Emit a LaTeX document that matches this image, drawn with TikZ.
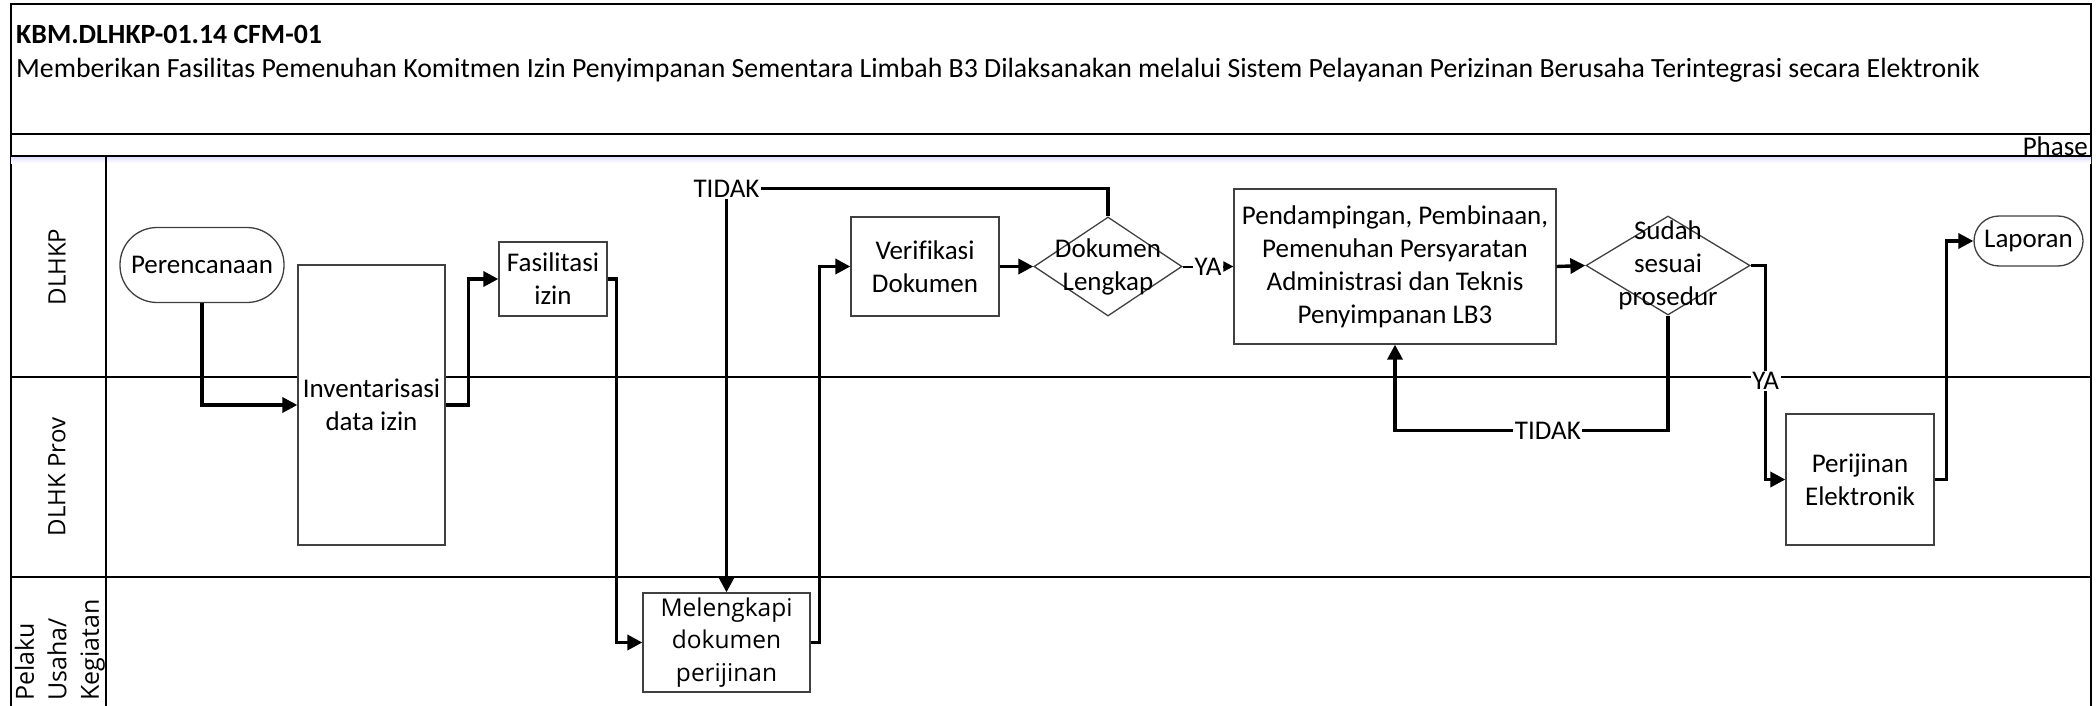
\documentclass[tikz,border=0pt]{standalone}
\usepackage{fontspec}
\setmainfont{Carlito}[Ligatures=NoCommon]
\newfontfamily\lanefont{Open Sans}[Ligatures=NoCommon]
\usetikzlibrary{shapes.geometric,arrows.meta}
\begin{document}
\begin{tikzpicture}[x=1pt,y=-1pt,
  frameline/.style={line width=1.8pt,black},
  laneline/.style={line width=1.6pt,black},
  box/.style={draw=black!75,line width=1.3pt,fill=white,inner sep=0pt,align=center,
    font=\fontsize{27}{33}\selectfont},
  decision/.style={draw=black!75,line width=1.3pt,diamond,inner sep=0pt,fill=white},
  dtext/.style={inner sep=0pt,align=center,font=\fontsize{27}{33}\selectfont},
  lanelabel/.style={rotate=90,inner sep=0pt,font=\lanefont\fontsize{24}{32.5}\selectfont},
  flow/.style={line width=3.4pt,black,-{Triangle[length=15pt,width=15pt]}},
  thinflow/.style={line width=2pt,black,-{Triangle[length=10pt,width=10pt]}},
  lbl/.style={fill=white,inner sep=1.5pt,font=\fontsize{27}{33}\selectfont}]
\useasboundingbox (0,0) rectangle (2096,706);
\clip (0,0) rectangle (2096,706);

% outer frame, header and phase band
\draw[frameline] (11,720) -- (11,4) -- (2091,4) -- (2091,720);
\draw[frameline] (11,134) -- (2091,134);
\shade[top color=blue!12,bottom color=white] (11,157) rectangle (2091,163);
\draw[frameline] (11,156) -- (2091,156);

\node[anchor=base west,inner sep=0pt,font=\bfseries\fontsize{27.8}{33}\selectfont] (code) at (16,44) {KBM.DLHKP-01.14 CFM-01};
\node[anchor=base west,inner sep=0pt,font=\fontsize{27.8}{33}\selectfont] (title) at (16,78) {Memberikan Fasilitas Pemenuhan Komitmen Izin Penyimpanan Sementara Limbah B3 Dilaksanakan melalui Sistem Pelayanan Perizinan Berusaha Terintegrasi secara Elektronik};
\node[anchor=base east,inner sep=0pt,font=\fontsize{27}{33}\selectfont] (phase) at (2088,155) {Phase};

% swimlanes
\draw[laneline] (106,156) -- (106,720);
\draw[laneline] (11,377) -- (2091,377);
\draw[laneline] (11,577) -- (2091,577);
\node[lanelabel] (laneA) at (57,267) {DLHKP};
\node[lanelabel] (laneB) at (57,477) {DLHK Prov};
\node[lanelabel,anchor=west,align=left,font=\lanefont\fontsize{25}{32.5}\selectfont] (laneC) at (60,701) {Pelaku\\Usaha/\\Kegiatan};

% process steps
\node[box,rounded corners=37pt,minimum width=164pt,minimum height=75pt] (plan) at (202,265) {Perencanaan};
\node[box,minimum width=147pt,minimum height=280pt] (inv) at (371.5,405) {Inventarisasi\\data izin};
\node[box,minimum width=108pt,minimum height=74pt] (fas) at (553,279) {Fasilitasi\\izin};
\node[box,minimum width=167pt,minimum height=99pt,font=\lanefont\fontsize{24.5}{32.5}\selectfont] (mel) at (726.5,642.5) {Melengkapi\\dokumen\\perijinan};
\node[box,minimum width=148pt,minimum height=99pt] (ver) at (925,266.5) {Verifikasi\\Dokumen};
\node[decision,minimum width=148pt,minimum height=99pt] (lengkap) at (1108,266.5) {};
\node[dtext] (lengkapT) at (lengkap) {Dokumen\\Lengkap};
\node[box,minimum width=322pt,minimum height=155pt] (pend) at (1395,266.5) {Pendampingan, Pembinaan,\\Pemenuhan Persyaratan\\Administrasi dan Teknis\\Penyimpanan LB3};
\node[decision,minimum width=164pt,minimum height=99pt] (sesuai) at (1668,265.5) {};
\node[dtext] (sesuaiT) at (sesuai) {Sudah\\sesuai\\prosedur};
\node[box,minimum width=148pt,minimum height=131pt] (elek) at (1860,479.5) {Perijinan\\Elektronik};
\node[box,rounded corners=25pt,minimum width=109pt,minimum height=50pt] (lap) at (2028.5,241) {Laporan};

% connectors
\draw[flow] (plan.south) |- (inv.west);
\draw[flow] (inv.east) -- ++(23,0) |- (fas.west);
\draw[flow] (fas.east) -- ++(9,0) |- (mel.west);
\draw[flow] (mel.east) -- ++(9,0) |- (ver.west);
\draw[flow] (ver.east) -- (lengkap.west);
\draw[thinflow] (lengkap.east) -- node[lbl] (ya1) {YA} (pend.west);
\draw[flow] (lengkap.north) -- ++(0,-28) -| node[lbl,pos=0.5] (tidak1) {TIDAK} (mel.north);
\draw[flow] (pend.east) -- (sesuai.west);
\draw[flow] (sesuai.south) -- ++(0,115) -| node[lbl,pos=0.22] (tidak2) {TIDAK} (pend.south);
\draw[flow] (sesuai.east) -- ++(15,0) |- node[lbl,pos=0.27] (ya2) {YA} (elek.west);
\draw[flow] (elek.east) -- ++(12,0) |- (lap.west);
\end{tikzpicture}
\end{document}
